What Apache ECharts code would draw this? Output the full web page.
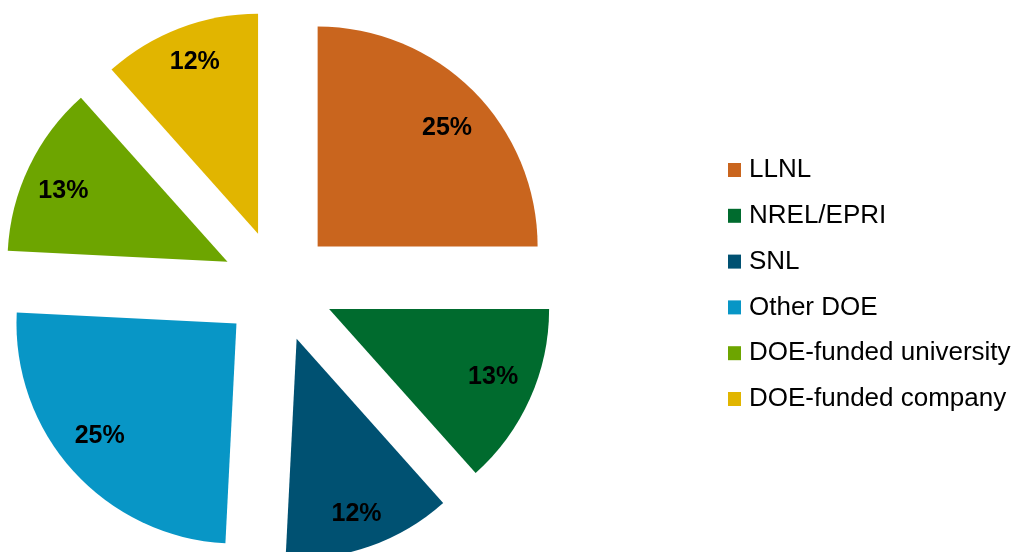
<!DOCTYPE html>
<html>
<head>
<meta charset="utf-8">
<script src="https://cdn.jsdelivr.net/npm/echarts@6/dist/echarts.min.js"></script>
<style>
html,body{margin:0;padding:0;background:#fff;}
#chart{width:1020px;height:552px;}
</style>
</head>
<body>
<div id="chart"></div>
<script>
var categories = ['LLNL', 'NREL/EPRI', 'SNL', 'Other DOE', 'DOE-funded university', 'DOE-funded company'];
var values = [25, 13.4, 12.4, 25, 12.6, 11.6];
var colors = ['#C9651E', '#006B2E', '#005172', '#0896C6', '#6DA500', '#E1B500'];
var labelOffsets = [[0, 11], [-3, -7], [-1, 3], [-1, -10], [1, 8], [2, -1]];

var chart = echarts.init(document.getElementById('chart'), null, {renderer: 'canvas'});

function makeData(ghost) {
  return categories.map(function (c, i) {
    return {
      name: c,
      value: values[i],
      selected: true,
      itemStyle: {color: ghost ? 'rgba(0,0,0,0)' : colors[i]}
    };
  });
}

var option = {
  animation: false,
  backgroundColor: '#ffffff',
  legend: {
    orient: 'vertical',
    left: 723,
    top: 152,
    itemWidth: 13,
    itemHeight: 14,
    itemGap: 19.8,
    icon: 'rect',
    data: categories,
    selectedMode: false,
    textStyle: {
      fontFamily: 'Liberation Sans, Arial, sans-serif',
      fontSize: 26,
      lineHeight: 26,
      color: '#000',
      padding: [0, 0, 0, 3]
    }
  },
  series: [
    {
      type: 'pie',
      center: [278, 286],
      radius: [0, 220],
      startAngle: 90,
      clockwise: true,
      selectedMode: 'multiple',
      selectedOffset: 56,
      avoidLabelOverlap: false,
      label: {show: false},
      labelLine: {show: false},
      emphasis: {disabled: true},
      select: {itemStyle: {borderWidth: 0}},
      itemStyle: {borderWidth: 0},
      data: makeData(false)
    },
    {
      type: 'pie',
      silent: true,
      center: [278, 286],
      radius: [140, 220],
      startAngle: 90,
      clockwise: true,
      selectedMode: 'multiple',
      selectedOffset: 56,
      percentPrecision: 0,
      avoidLabelOverlap: false,
      label: {
        show: true,
        position: 'inside',
        formatter: '{d}%',
        fontFamily: 'Liberation Sans, Arial, sans-serif',
        fontWeight: 'bold',
        fontSize: 25,
        color: '#000'
      },
      labelLayout: function (p) {
        var o = labelOffsets[p.dataIndex];
        return {dx: o[0], dy: o[1]};
      },
      labelLine: {show: false},
      emphasis: {disabled: true},
      select: {itemStyle: {borderWidth: 0}, label: {show: true}},
      itemStyle: {borderWidth: 0},
      data: makeData(true)
    }
  ]
};
chart.setOption(option);
</script>
</body>
</html>
